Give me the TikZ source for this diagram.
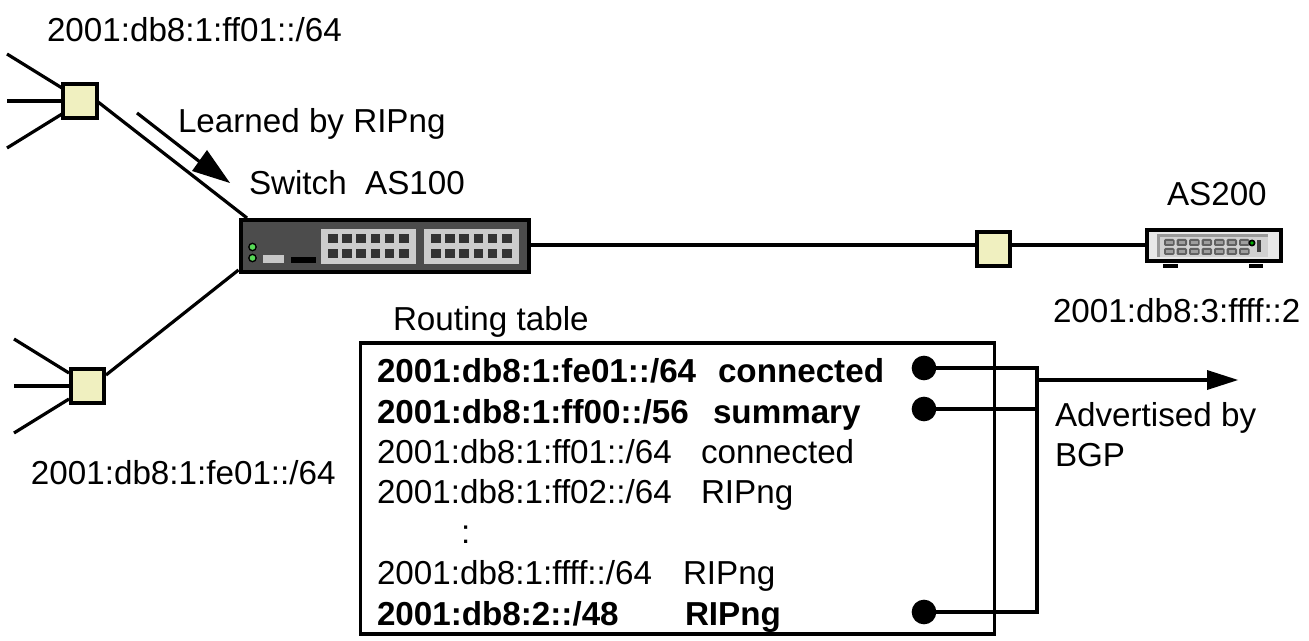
\documentclass[tikz,border=0pt]{standalone}
\usepackage{fontspec}
\setmainfont{Liberation Sans}
\definecolor{hub}{HTML}{F0F0C0}
\tikzset{
  x=0.75pt,y=-0.75pt,
  wire/.style={line width=2.4pt,black},
  hubbox/.style={draw=black,line width=3pt,fill=hub,minimum size=25.2pt,inner sep=0pt,outer sep=0pt,rectangle},
  lbl/.style={anchor=base west,inner sep=0pt,outer sep=0pt,font=\fontsize{24.9pt}{30pt}\selectfont},
  blbl/.style={lbl,font=\fontsize{24.9pt}{30pt}\selectfont\bfseries},
  dot/.style={circle,fill=black,draw=none,minimum size=18.5pt,inner sep=0pt,outer sep=0pt},
  swport/.style={fill=black!80,draw=none},
}
\begin{document}
\begin{tikzpicture}
\useasboundingbox (0,0) rectangle (1309,641);
% free ends
\coordinate (a1) at (7,54);\coordinate (a2) at (7,101);\coordinate (a3) at (7,148);
\coordinate (b1) at (14,339);\coordinate (b2) at (14,386);\coordinate (b3) at (14,433);
\coordinate (swNW) at (247,218);\coordinate (swSW) at (238.5,270);
\coordinate (learnA) at (137,113);\coordinate (learnB) at (230,183);
\coordinate (jTop) at (1037,368);\coordinate (jMid) at (1037,409);\coordinate (jBot) at (1037,612);
\coordinate (jOut) at (1037,380);\coordinate (advEnd) at (1238,380);
% hubs
\node[hubbox] (q1) at (80,101) {};
\node[hubbox] (q2) at (87.5,386) {};
\node[hubbox] (q3) at (993.5,249) {};
% switch
\node[draw=black,line width=3pt,fill=black!70,minimum width=215.5pt,minimum height=39.6pt,inner sep=0pt,outer sep=0pt,rectangle] (sw) at (385,246) {};
% AS200 device
\node[draw=black,line width=3pt,fill=black!9,minimum width=99.8pt,minimum height=23.8pt,inner sep=0pt,outer sep=0pt,rectangle] (as) at (1214,245.5) {};
% connectors
\draw[wire] (a1) -- (62,88);
\draw[wire] (a2) -- (q1.west);
\draw[wire] (a3) -- (62,114);
\draw[wire] (q1.east) -- (swNW);
\draw[wire] (b1) -- (69,373);
\draw[wire] (b2) -- (q2.west);
\draw[wire] (b3) -- (69,399);
\draw[wire] (106,375) -- (swSW);
\draw[wire] (sw.east |- 0,245) -- (q3.west |- 0,245);
\draw[wire] (q3.east |- 0,245) -- (as.west |- 0,245);
\draw[wire] (learnA) -- (200,162);
\fill (learnB) -- (207,150) -- (192,171) -- cycle;
% switch detail
\foreach \cx in {321,424}{
  \fill[black!20] (\cx,229) rectangle ++(95,35);
  \foreach \i in {0,...,5}{\foreach \ry in {234,249}{
    \fill[swport] (\cx+7+14.2*\i,\ry) rectangle ++(9.5,9.5);
  }}
}
\foreach \ly in {247,258}{\fill[black] (252.5,\ly) circle (4.4);\fill[green!60!white!85!black] (252.5,\ly) circle (2.8);}
\fill[black!22] (263,255) rectangle (284,263);
\fill[black] (291,257) rectangle (316,263);
% AS200 detail
\fill[black!40] (1157,234) rectangle (1268,257);
\fill[black!18] (1160,237) rectangle (1268,257);
\foreach \i in {0,...,6}{\foreach \ry in {239,248}{
  \fill[black!62,rounded corners=1pt] (1164+12.5*\i,\ry) rectangle ++(10.5,7);
  \fill[black!38] (1166+12.5*\i,\ry+2) rectangle ++(6.5,3);
}}
\fill[black] (1252,243) circle (3.5);\fill[green!70!black] (1252,243) circle (1.8);
\fill[black!75] (1257,240) rectangle (1261,252);
\fill[black] (1163,264) rectangle (1178,268);
\fill[black] (1249,264) rectangle (1263,268);
% table
\node[draw=black,line width=2.4pt,fill=none,minimum width=475pt,minimum height=218.2pt,inner sep=0pt,outer sep=0pt,rectangle] (tbl) at (677.5,488.5) {};
\node[dot] (d1) at (924,368) {};
\node[dot] (d2) at (924,409) {};
\node[dot] (d3) at (924,612) {};
\draw[wire,line join=miter] (d1.center) -- (jTop) -- (jBot) -- (d3.center);
\draw[wire] (d2.center) -- (jMid);
\draw[wire] (jOut) -- (1208,380);
\fill (advEnd) -- (1207,370) -- (1207,390) -- cycle;
% text
\node[lbl] (t1) at (47,42) {2001:db8:1:ff01::/64};
\node[lbl] (t2) at (178,133) {Learned by RIPng};
\node[lbl] (t3) at (249,195) {Switch\ \ AS100};
\node[lbl] (t4) at (1167,206) {AS200};
\node[lbl] (t5) at (1053,323) {2001:db8:3:ffff::2};
\node[lbl] (t6) at (31,484) {2001:db8:1:fe01::/64};
\node[lbl] (t7) at (393,330) {Routing table};
\node[blbl] (r1) at (377,382) {2001:db8:1:fe01::/64};
\node[blbl] (r1b) at (718,382) {connected};
\node[blbl] (r2) at (377,423) {2001:db8:1:ff00::/56};
\node[blbl] (r2b) at (713,423) {summary};
\node[lbl] (r3) at (377,463) {2001:db8:1:ff01::/64};
\node[lbl] (r3b) at (701,463) {connected};
\node[lbl] (r4) at (377,503) {2001:db8:1:ff02::/64};
\node[lbl] (r4b) at (701,503) {RIPng};
\node[lbl] (r5) at (461,543) {:};
\node[lbl] (r6) at (377,584) {2001:db8:1:ffff::/64};
\node[lbl] (r6b) at (683,584) {RIPng};
\node[blbl] (r7) at (377,625) {2001:db8:2::/48};
\node[blbl] (r7b) at (685,625) {RIPng};
\node[lbl] (t8) at (1055,426) {Advertised by};
\node[lbl] (t9) at (1055,466) {BGP};
\end{tikzpicture}
\end{document}
